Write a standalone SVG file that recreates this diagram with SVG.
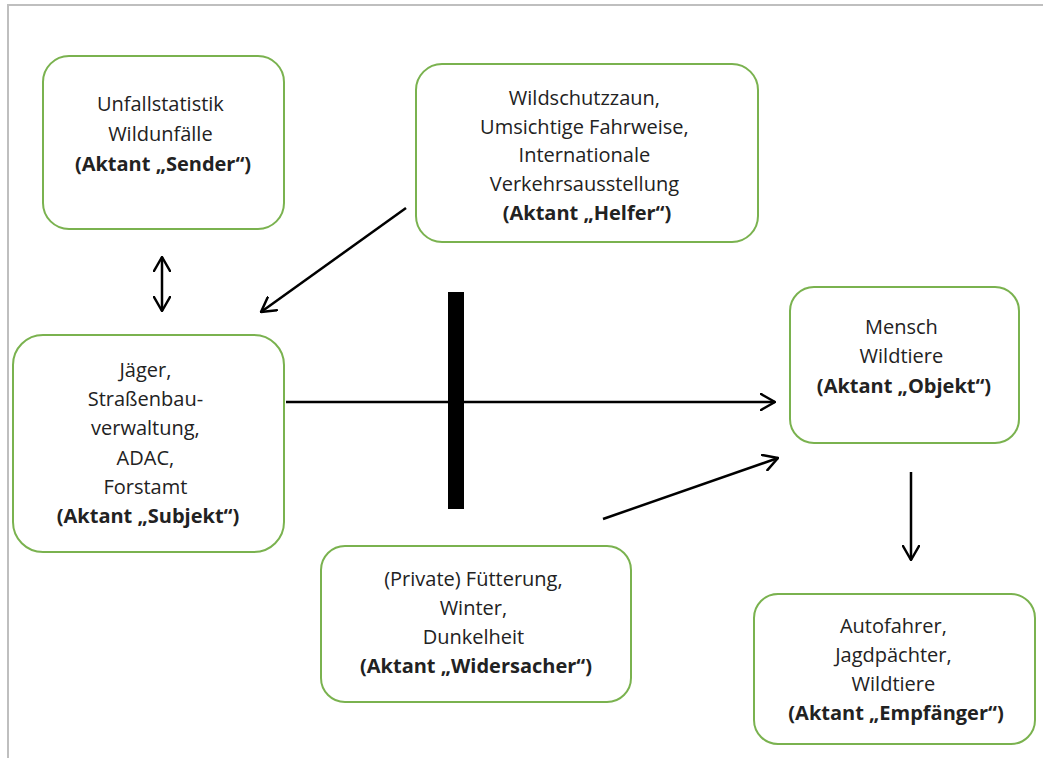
<svg xmlns="http://www.w3.org/2000/svg" width="1043" height="758" viewBox="0 0 1043 758">
  <defs>
    <marker id="head" viewBox="0 0 16 18" refX="15" refY="9" markerWidth="16" markerHeight="18" markerUnits="userSpaceOnUse" orient="auto-start-reverse">
      <path d="M1,1 L15,9 L1,17" fill="none" stroke="#000" stroke-width="2.5" stroke-linecap="round" stroke-linejoin="round"/>
    </marker>
    <style>
      .box { fill: #fff; stroke: #7ab24f; stroke-width: 2; }
      .lbl { font-family: "Open Sans", "Liberation Sans", sans-serif; font-size: 20px; fill: #222; text-anchor: middle; }
      .lbl .b { font-weight: 700; }
      .conn { stroke: #000; stroke-width: 2.5; fill: none; marker-end: url(#head); }
    </style>
  </defs>

  <rect width="1043" height="758" fill="#fff"/>
  <!-- page frame -->
  <path d="M8,758 V5 H1043" fill="none" stroke="#bfbfbf" stroke-width="2"/>

  <g id="sender">
    <rect class="box" x="43" y="56" width="241" height="173" rx="26"/>
    <text class="lbl">
      <tspan x="163" y="111">Unfallstatistik</tspan>
      <tspan x="163" y="141">Wildunfälle</tspan>
      <tspan class="b" x="163" y="171">(Aktant „Sender“)</tspan>
    </text>
  </g>

  <g id="helfer">
    <rect class="box" x="416" y="64" width="342" height="178" rx="26"/>
    <text class="lbl">
      <tspan x="587" y="105">Wildschutzzaun,</tspan>
      <tspan x="587" y="134">Umsichtige Fahrweise,</tspan>
      <tspan x="587" y="162">Internationale</tspan>
      <tspan x="587" y="191">Verkehrsausstellung</tspan>
      <tspan class="b" x="587" y="220">(Aktant „Helfer“)</tspan>
    </text>
  </g>

  <g id="subjekt">
    <rect class="box" x="13" y="335" width="271" height="217" rx="30"/>
    <text class="lbl">
      <tspan x="148" y="377">Jäger,</tspan>
      <tspan x="148" y="406">Straßenbau-</tspan>
      <tspan x="148" y="435">verwaltung,</tspan>
      <tspan x="148" y="465">ADAC,</tspan>
      <tspan x="148" y="494">Forstamt</tspan>
      <tspan class="b" x="148" y="523">(Aktant „Subjekt“)</tspan>
    </text>
  </g>

  <g id="widersacher">
    <rect class="box" x="321" y="546" width="310" height="156" rx="24"/>
    <text class="lbl">
      <tspan x="476" y="586">(Private) Fütterung,</tspan>
      <tspan x="476" y="615">Winter,</tspan>
      <tspan x="476" y="644">Dunkelheit</tspan>
      <tspan class="b" x="476" y="673">(Aktant „Widersacher“)</tspan>
    </text>
  </g>

  <g id="objekt">
    <rect class="box" x="790" y="287" width="229" height="156" rx="24"/>
    <text class="lbl">
      <tspan x="904" y="334">Mensch</tspan>
      <tspan x="904" y="363">Wildtiere</tspan>
      <tspan class="b" x="904" y="393">(Aktant „Objekt“)</tspan>
    </text>
  </g>

  <g id="empfaenger">
    <rect class="box" x="754" y="594" width="281" height="150" rx="24"/>
    <text class="lbl">
      <tspan x="896" y="633">Autofahrer,</tspan>
      <tspan x="896" y="662">Jagdpächter,</tspan>
      <tspan x="896" y="691">Wildtiere</tspan>
      <tspan class="b" x="896" y="720">(Aktant „Empfänger“)</tspan>
    </text>
  </g>

  <g id="connectors">
    <line class="conn" x1="162" y1="257" x2="162" y2="311" marker-start="url(#head)"/>
    <line class="conn" x1="406" y1="208" x2="261" y2="312"/>
    <line class="conn" x1="286" y1="402" x2="775" y2="402"/>
    <line class="conn" x1="603" y1="519" x2="778" y2="458"/>
    <line class="conn" x1="911" y1="472" x2="911" y2="560"/>
    <!-- blocking bar across the subject–object axis -->
    <rect x="448" y="292" width="16" height="217" fill="#000"/>
  </g>
</svg>
